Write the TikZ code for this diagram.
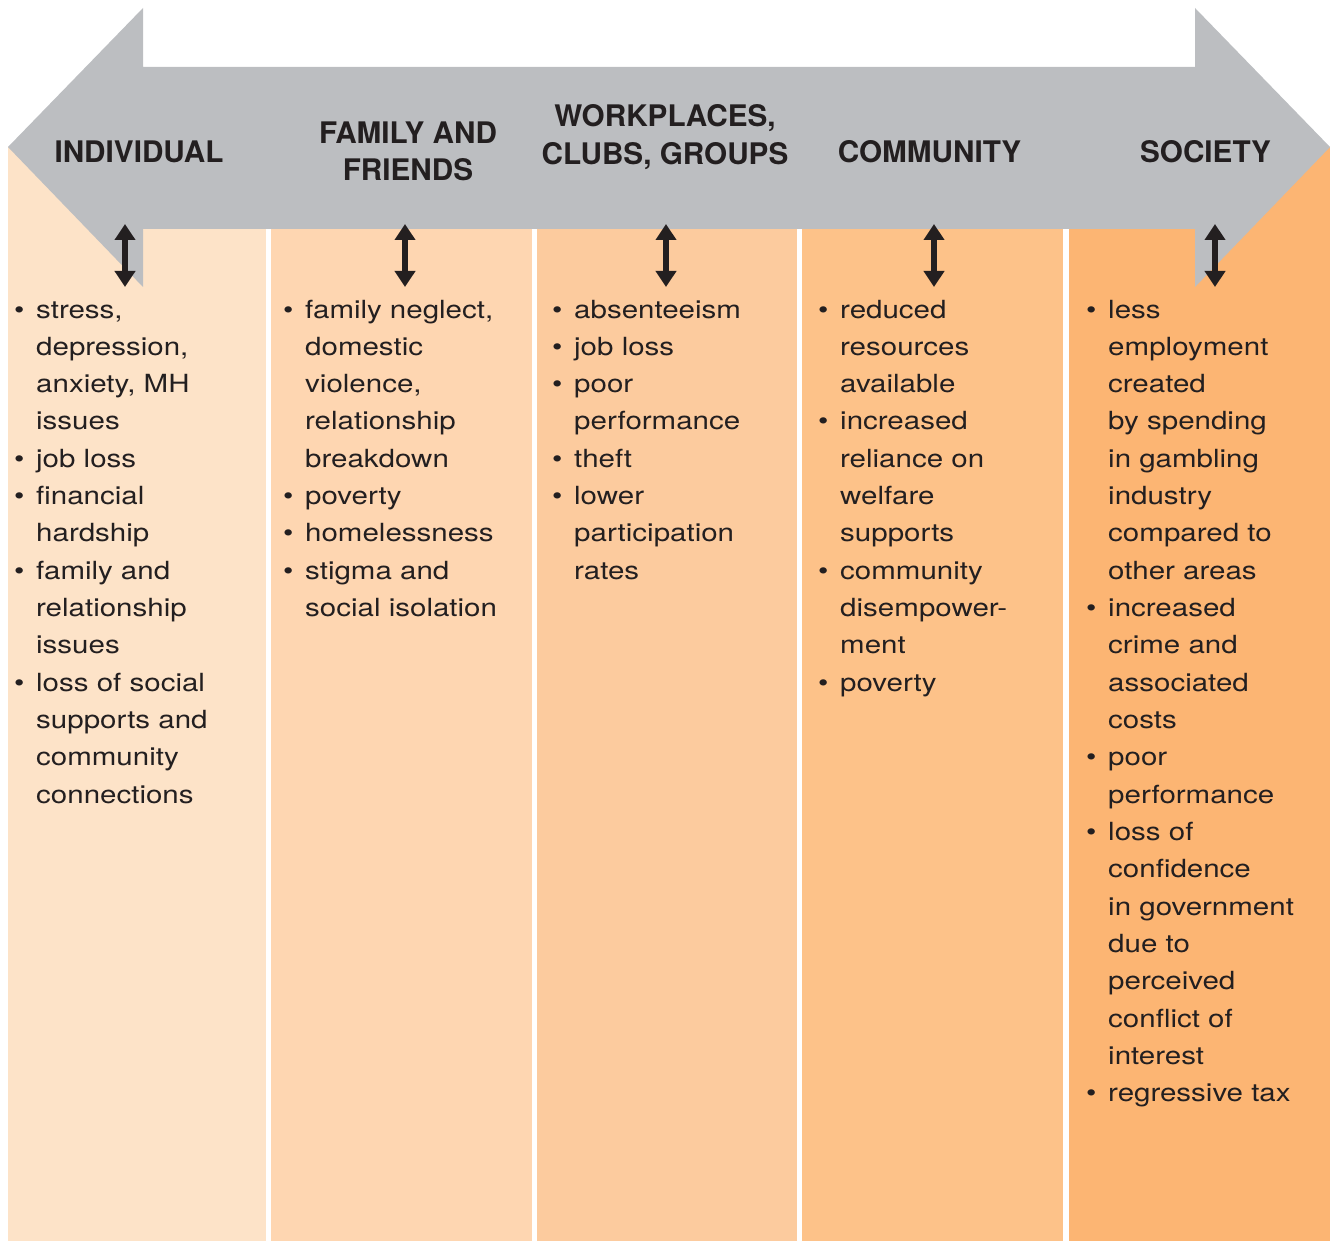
\documentclass[tikz,border=0pt]{standalone}
\usepackage{fontspec}
\setmainfont{TeX Gyre Heros}
\newfontfamily\bodyfont[FakeStretch=1.18]{TeX Gyre Heros}
\usetikzlibrary{arrows.meta}
\definecolor{colA}{RGB}{253,227,200}
\definecolor{colB}{RGB}{254,214,177}
\definecolor{colC}{RGB}{252,203,158}
\definecolor{colD}{RGB}{253,194,137}
\definecolor{colE}{RGB}{252,181,115}
\definecolor{arrowgray}{RGB}{188,190,193}
\definecolor{ink}{RGB}{35,31,32}
\newcommand{\bi}[1]{\hbox{\hbox to 22pt{\hbox to 10pt{\hss•\hss}\hss}#1}}
\newcommand{\cl}[1]{\hbox{\hbox to 22pt{\hss}#1}}
\newcommand{\twoline}[2]{\vtop{\baselineskip=37.5pt\halign{\hfil##\hfil\cr #1\cr #2\cr}}}
\tikzset{
  hdr/.style={font=\fontsize{29.7}{37.5}\selectfont\bfseries, text=ink, inner sep=0pt, anchor=base},
  body/.style={font=\bodyfont\fontsize{25}{37.33}\selectfont, text=ink, inner sep=0pt, anchor=base west},
  dblarrow/.style={draw=ink, line width=6.5pt, {Triangle[width=20pt,length=16pt]}-{Triangle[width=20pt,length=16pt]}}
}
\newcommand{\col}[1]{\vtop{\baselineskip=37.33pt #1}}
\begin{document}
\begin{tikzpicture}[x=1pt,y=-1pt]
\useasboundingbox (0,0) rectangle (1330,1241);
% columns
\fill[colA] (8,147) rectangle (266,1241);
\fill[colB] (271,147) rectangle (532,1241);
\fill[colC] (537,147) rectangle (797,1241);
\fill[colD] (802,147) rectangle (1063,1241);
\fill[colE] (1069,147) rectangle (1330,1241);
% big double arrow
\fill[arrowgray] (8,147) -- (143,8) -- (143,67) -- (1195,67) -- (1195,8) -- (1330,147)
  -- (1195,287) -- (1195,229) -- (143,229) -- (143,287) -- cycle;
% headers
\node[hdr] (h1) at (139,162.3) {INDIVIDUAL};
\node[hdr] (h2) at (408,143.3) {\twoline{FAMILY AND}{FRIENDS}};
\node[hdr] (h3) at (665,126.7) {\twoline{WORKPLACES,}{CLUBS, GROUPS}};
\node[hdr] (h4) at (929.5,162.3) {COMMUNITY};
\node[hdr] (h5) at (1205.5,162.3) {SOCIETY};
% small arrows
\foreach \i/\x in {1/125,2/405,3/666,4/934,5/1215}{
  \coordinate (t\i) at (\x,224);
  \coordinate (b\i) at (\x,287);
  \draw[dblarrow] (t\i) -- (b\i);
}
% texts
\node[body] (c1) at (14,318) {\col{%
\bi{stress,}\cl{depression,}\cl{anxiety, MH}\cl{issues}%
\bi{job loss}\bi{financial}\cl{hardship}%
\bi{family and}\cl{relationship}\cl{issues}%
\bi{loss of social}\cl{supports and}\cl{community}\cl{connections}}};
\node[body] (c2) at (283,318) {\col{%
\bi{family neglect,}\cl{domestic}\cl{violence,}\cl{relationship}\cl{breakdown}%
\bi{poverty}\bi{homelessness}\bi{stigma and}\cl{social isolation}}};
\node[body] (c3) at (552,318) {\col{%
\bi{absenteeism}\bi{job loss}\bi{poor}\cl{performance}%
\bi{theft}\bi{lower}\cl{participation}\cl{rates}}};
\node[body] (c4) at (818,318) {\col{%
\bi{reduced}\cl{resources}\cl{available}%
\bi{increased}\cl{reliance on}\cl{welfare}\cl{supports}%
\bi{community}\cl{disempower-}\cl{ment}%
\bi{poverty}}};
\node[body] (c5) at (1086,318) {\col{%
\bi{less}\cl{employment}\cl{created}\cl{by spending}\cl{in gambling}\cl{industry}\cl{compared to}\cl{other areas}%
\bi{increased}\cl{crime and}\cl{associated}\cl{costs}%
\bi{poor}\cl{performance}%
\bi{loss of}\cl{confidence}\cl{in government}\cl{due to}\cl{perceived}\cl{conflict of}\cl{interest}%
\bi{regressive tax}}};
\end{tikzpicture}
\end{document}
